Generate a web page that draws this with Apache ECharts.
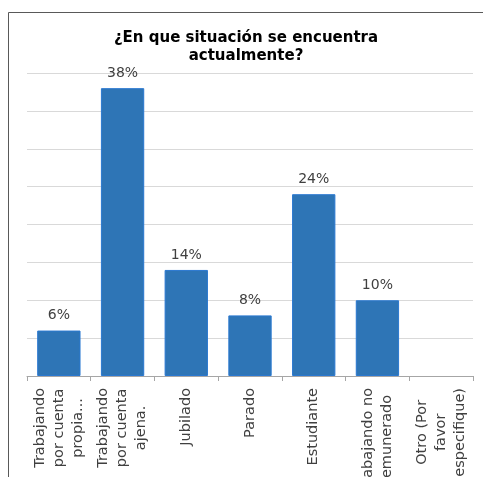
<!DOCTYPE html>
<html>
<head>
<meta charset="utf-8">
<script src="https://cdn.jsdelivr.net/npm/echarts@6/dist/echarts.min.js"></script>
<style>
html,body{margin:0;padding:0;background:#fff;}
#chart{width:483px;height:477px;}
</style>
</head>
<body>
<div id="chart"></div>
<script>
var titleText = '¿En que situación se encuentra\nactualmente?';
var categories = [
  'Trabajando\npor cuenta\npropia...',
  'Trabajando\npor cuenta\najena.',
  'Jubilado',
  'Parado',
  'Estudiante',
  'Trabajando no\nremunerado',
  'Otro (Por\nfavor\nespecifique)'
];
var values = [6, 38, 14, 8, 24, 10, 0];
var yMin = 0, yMax = 40, yStep = 5;

var chart = echarts.init(document.getElementById('chart'), null, {renderer: 'canvas'});
var font = '"DejaVu Sans", Verdana, sans-serif';
chart.setOption({
  animation: false,
  backgroundColor: '#ffffff',
  graphic: [{
    type: 'rect',
    shape: {x: 8.5, y: 12.5, width: 600, height: 600},
    style: {fill: 'none', stroke: '#595959', lineWidth: 1},
    silent: true,
    z: -10
  }],
  title: {
    text: titleText,
    left: 241,
    textAlign: 'center',
    top: 24,
    textStyle: {fontFamily: font, fontSize: 15, fontWeight: 'bold', color: '#000', lineHeight: 18}
  },
  grid: {left: 27, right: 10, top: 73, bottom: 101, containLabel: false, outerBoundsMode: 'none'},
  xAxis: {
    type: 'category',
    data: categories,
    axisLine: {lineStyle: {color: '#a6a6a6', width: 1}},
    axisTick: {show: true, length: 5, lineStyle: {color: '#a6a6a6'}},
    axisLabel: {
      interval: 0,
      rotate: 90,
      margin: 12,
      color: '#404040',
      fontFamily: font,
      fontSize: 14.5,
      lineHeight: 19,
      hideOverlap: false,
      formatter: function (v) {
        return v.split('\n').map(function (s) { return '{c|' + s + '}'; }).join('\n');
      },
      rich: {c: {align: 'center', fontFamily: font, fontSize: 14.5, lineHeight: 19, color: '#404040'}}
    }
  },
  yAxis: {
    type: 'value',
    min: yMin,
    max: yMax,
    interval: yStep,
    axisLabel: {show: false},
    axisLine: {show: false},
    axisTick: {show: false},
    splitLine: {lineStyle: {color: '#d9d9d9', width: 1}}
  },
  series: [{
    type: 'bar',
    barCategoryGap: '32%',
    data: values.map(function (v) {
      return v === 0 ? {value: v, itemStyle: {borderWidth: 0}, label: {show: false}} : v;
    }),
    itemStyle: {color: '#2e75b6', borderColor: '#2a78d0', borderWidth: 1},
    label: {
      show: true,
      position: 'top',
      distance: 8,
      color: '#404040',
      fontFamily: font,
      fontSize: 14,
      formatter: function (p) { return p.value + '%'; }
    }
  }]
});
</script>
</body>
</html>
